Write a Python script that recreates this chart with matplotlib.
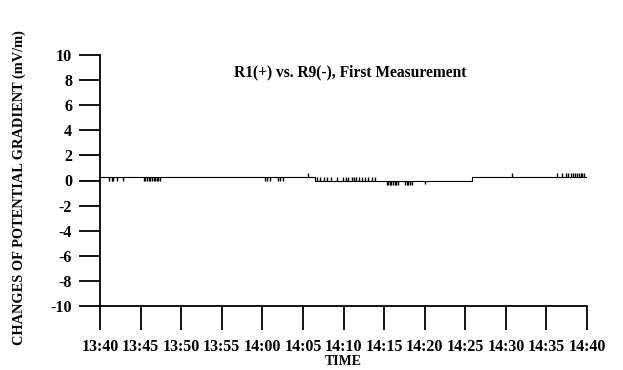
import numpy as np
import matplotlib
matplotlib.use("Agg")
import matplotlib.pyplot as plt

plt.rcParams['font.family'] = ['Liberation Serif', 'DejaVu Serif']
plt.rcParams['font.weight'] = 'bold'

# ---- data (minutes after 13:40) ----
tick_labels = ['13:40', '13:45', '13:50', '13:55', '14:00', '14:05', '14:10',
               '14:15', '14:20', '14:25', '14:30', '14:35', '14:40']
tick_minutes = [0, 5, 10, 15, 20, 25, 30, 35, 40, 45, 50, 55, 60]

# baseline level (step changes)
base_times = [0.0, 26.5, 45.8, 60.0]
base_levels = [0.3, 0.0, 0.3, 0.3]

# short excursions from the baseline
spike_times = [1.1, 1.5, 1.6, 2.1, 2.8,
               5.4, 5.6, 5.8, 6.0, 6.2, 6.4, 6.6, 6.8, 7.0, 7.2, 7.4,
               20.3, 20.6, 20.9, 21.9, 22.2, 22.6,
               25.6,
               26.7, 27.1, 27.6, 28.0, 28.5, 29.2, 29.9, 30.3, 30.6, 31.0,
               31.3, 31.6, 31.9, 32.3, 32.6, 33.0, 33.5, 33.9,
               35.3, 35.5, 35.7, 35.9, 36.1, 36.3, 36.5, 36.7,
               37.6, 37.8, 38.0, 38.2, 38.4, 40.0,
               45.9, 46.2, 46.5, 46.7,
               50.7, 56.3,
               56.9, 57.4, 57.6, 58.0, 58.3, 58.5, 58.8, 59.0, 59.2, 59.4, 59.6]
spike_tips = [0.0, 0.0, 0.0, 0.0, 0.0,
              0.0, 0.0, 0.0, 0.0, 0.0, 0.0, 0.0, 0.0, 0.0, 0.0, 0.0,
              0.0, 0.0, 0.0, 0.0, 0.0, 0.0,
              0.6,
              0.3, 0.3, 0.3, 0.3, 0.3, 0.3, 0.3, 0.3, 0.3, 0.3,
              0.3, 0.3, 0.3, 0.3, 0.3, 0.3, 0.3, 0.3,
              -0.35, -0.35, -0.35, -0.35, -0.35, -0.35, -0.35, -0.35,
              -0.35, -0.35, -0.35, -0.35, -0.35, -0.3,
              0.3, 0.3, 0.3, 0.3,
              0.6, 0.6,
              0.6, 0.6, 0.6, 0.6, 0.6, 0.6, 0.6, 0.6, 0.6, 0.6, 0.6]

yticks = [-10, -8, -6, -4, -2, 0, 2, 4, 6, 8, 10]

# ---- figure ----
fig = plt.figure(figsize=(6.23, 3.70), dpi=100)
ax = fig.add_axes([100/623, 1-306/370, 487/623, 251/370])

ax.plot(base_times, base_levels, drawstyle='steps-post', color='black', lw=0.8)
idx = np.searchsorted(base_times, spike_times, side='right') - 1
spike_base = np.array(base_levels)[idx]
ax.vlines(spike_times, spike_base, spike_tips, color='black', lw=1.0)

ax.set_xlim(0, 60)
ax.set_ylim(-10, 10)
ax.set_xticks(tick_minutes)
ax.set_xticklabels(tick_labels)
ax.set_yticks(yticks)
ax.set_yticklabels([str(v) for v in yticks])

for s in ['top', 'right']:
    ax.spines[s].set_visible(False)
for s in ['left', 'bottom']:
    ax.spines[s].set_linewidth(1.3)

ax.tick_params(axis='both', direction='out', length=15, width=1.3,
               labelsize=11.5, pad=5)
ax.tick_params(axis='x', length=17, pad=7)
for lab in ax.get_xticklabels() + ax.get_yticklabels():
    lab.set_fontweight('bold')

ax.set_xlabel('TIME', fontsize=10, fontweight='bold', labelpad=0)
ax.set_ylabel('CHANGES OF POTENTIAL GRADIENT (mV/m)', fontsize=10.4,
              fontweight='bold')
ax.yaxis.set_label_coords(-0.152, 0.472)
ax.text(0.513, 0.932, 'R1(+) vs. R9(-), First Measurement', transform=ax.transAxes,
        ha='center', va='center', fontsize=11.2, fontweight='bold')

fig.savefig('out.png', dpi=100)
